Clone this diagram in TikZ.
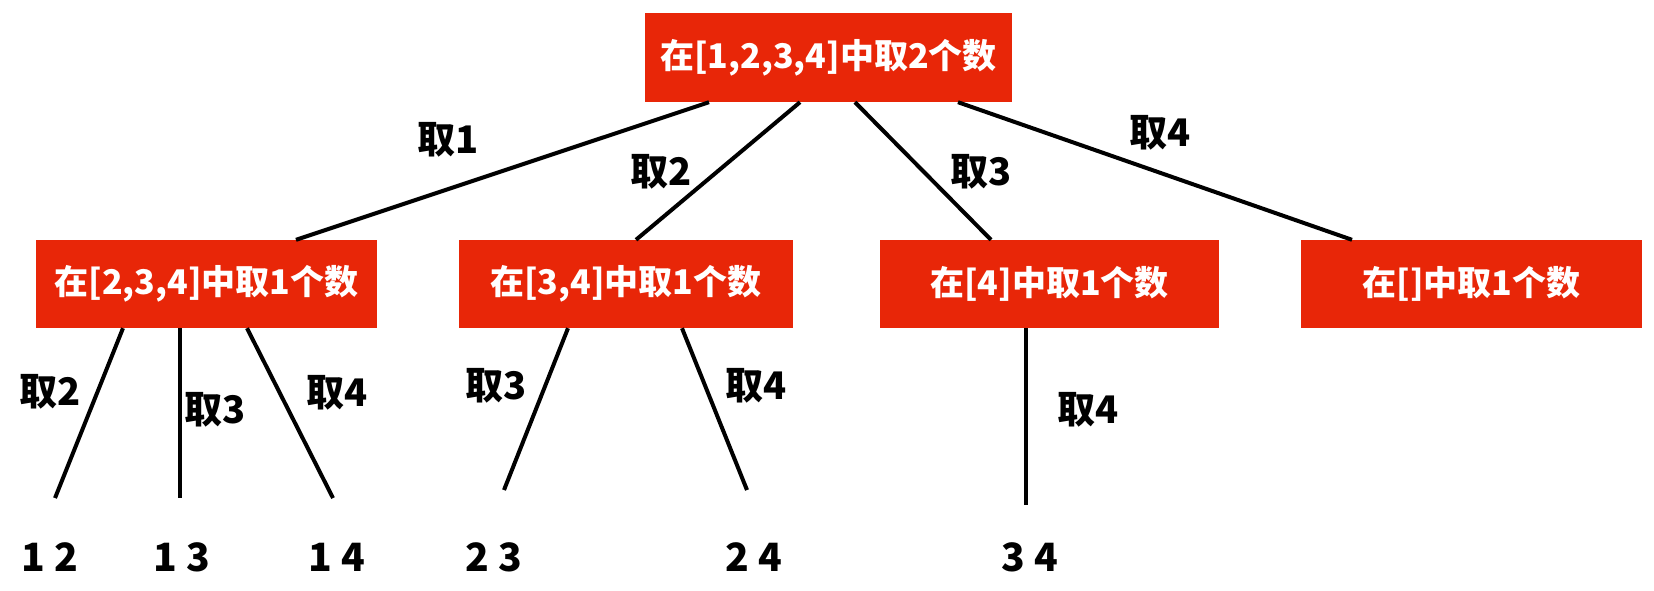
\documentclass[tikz,border=0pt]{standalone}
\usepackage{fontspec}
\setmainfont{Noto Sans CJK SC}
\definecolor{boxred}{RGB}{232,38,8}
\begin{document}
\begin{tikzpicture}[x=1pt,y=-1pt,
  box/.style={fill=boxred, draw=none, text=white, font=\fontsize{34}{40}\selectfont\bfseries, minimum height=88pt, inner sep=0pt},
  edge/.style={line width=4pt},
  lbl/.style={font=\fontsize{38}{44}\selectfont\bfseries, text=black, inner sep=0pt},
  leaf/.style={font=\fontsize{39}{44}\selectfont\bfseries, text=black, inner sep=0pt}]
\useasboundingbox[fill=white] (0,0) rectangle (1654,590);
% boxes
\node[box, minimum width=367pt, minimum height=89pt] (root) at (828.5,57.5) {在[1,2,3,4]中取2个数};
\node[box, minimum width=341pt] (b1) at (206.5,284) {在[2,3,4]中取1个数};
\node[box, minimum width=334pt] (b2) at (626,284) {在[3,4]中取1个数};
\node[box, minimum width=339pt] (b3) at (1049.5,284) {在[4]中取1个数};
\node[box, minimum width=341pt] (b4) at (1471.5,284) {在[]中取1个数};
% free ends
\coordinate (e12) at (55,498);
\coordinate (e13) at (180,498);
\coordinate (e14) at (333,498);
\coordinate (e23) at (504,490);
\coordinate (e24) at (747,490);
\coordinate (e34) at (1026,505);
% edges
\draw[edge] (709,0 |- root.south) -- (296,0 |- b1.north);
\draw[edge] (800,0 |- root.south) -- (636,0 |- b2.north);
\draw[edge] (855,0 |- root.south) -- (991,0 |- b3.north);
\draw[edge] (958,0 |- root.south) -- (1352,0 |- b4.north);
\draw[edge] (123,0 |- b1.south) -- (e12);
\draw[edge] (180,0 |- b1.south) -- (e13);
\draw[edge] (247,0 |- b1.south) -- (e14);
\draw[edge] (568,0 |- b2.south) -- (e23);
\draw[edge] (682,0 |- b2.south) -- (e24);
\draw[edge] (1026,0 |- b3.south) -- (e34);
% labels
\node[lbl] (l1) at (448,140) {取1};
\node[lbl] (l2) at (661,172) {取2};
\node[lbl] (l3) at (981,172) {取3};
\node[lbl] (l4) at (1160,133) {取4};
\node[lbl] (l12) at (50,392) {取2};
\node[lbl] (l13) at (215,410) {取3};
\node[lbl] (l14) at (337,393) {取4};
\node[lbl] (l23) at (496,386) {取3};
\node[lbl] (l24) at (756,386) {取4};
\node[lbl] (l34) at (1088,410) {取4};
% leaves
\node[leaf] (n12) at (50,557) {1 2};
\node[leaf] (n13) at (182,557) {1 3};
\node[leaf] (n14) at (337,557) {1 4};
\node[leaf] (n23) at (494,557) {2 3};
\node[leaf] (n24) at (754,557) {2 4};
\node[leaf] (n34) at (1030,557) {3 4};
\end{tikzpicture}
\end{document}
